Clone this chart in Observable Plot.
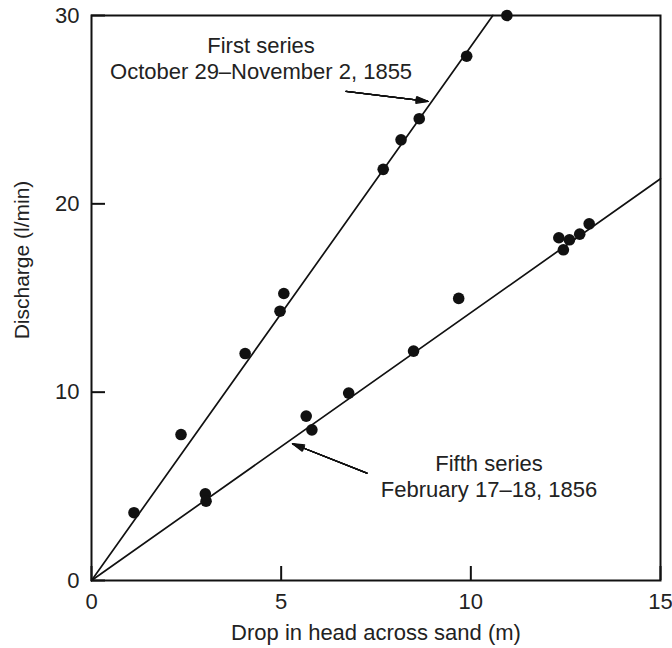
<!DOCTYPE html>
<html>
<head>
<meta charset="utf-8">
<script src="https://cdn.jsdelivr.net/npm/d3@7"></script>
<script src="https://cdn.jsdelivr.net/npm/@observablehq/plot@0.6"></script>
<style>
  html, body { margin: 0; padding: 0; background: #fff; }
  #chart svg { display: block; }
</style>
</head>
<body>
<div id="chart"></div>
<script>
// ---- data ----
const firstX = [1.12, 2.36, 4.05, 4.97, 5.07, 7.69, 8.16, 8.64, 9.89, 10.95];
const firstY = [3.6, 7.75, 12.05, 14.3, 15.24, 21.83, 23.4, 24.52, 27.84, 30.0];
const fifthX = [3.0, 3.02, 5.66, 5.81, 6.78, 8.49, 9.68, 12.32, 12.44, 12.6, 12.87, 13.12];
const fifthY = [4.6, 4.21, 8.73, 8.0, 9.95, 12.18, 14.98, 18.2, 17.56, 18.09, 18.39, 18.94];

const fitFirstX = [0, 10.58];
const fitFirstY = [0, 30];
const fitFifthX = [0, 15];
const fitFifthY = [0, 21.33];

const xTicks = [0, 5, 10, 15];
const yTicks = [0, 10, 20, 30];

const xLabel = "Drop in head across sand (m)";
const yLabel = "Discharge (l/min)";

const noteFirst = "First series\nOctober 29–November 2, 1855";
const noteFirstPos = [4.47, 27.75];
const arrowFirst = [6.71, 25.97, 8.87, 25.44];

const noteFifth = "Fifth series\nFebruary 17–18, 1856";
const noteFifthPos = [10.48, 5.55];
const arrowFifth = [7.26, 5.70, 5.30, 7.26];

// ---- build tables ----
const zip = (xs, ys) => xs.map((x, i) => ({x, y: ys[i]}));
const first = zip(firstX, firstY);
const fifth = zip(fifthX, fifthY);
const fitFirst = zip(fitFirstX, fitFirstY);
const fitFifth = zip(fitFifthX, fitFifthY);
const arrows = [arrowFirst, arrowFifth].map(([x1, y1, x2, y2]) => ({x1, y1, x2, y2}));
const notes = [
  {x: noteFirstPos[0], y: noteFirstPos[1], text: noteFirst},
  {x: noteFifthPos[0], y: noteFifthPos[1], text: noteFifth}
];

const FONT = "'Liberation Sans', Arial, Helvetica, sans-serif";
const INK = "#111";
const TEXT = "#222";
const FS = 22;

const headMarks = [32, 24, 16, 8, 2].map(a =>
  Plot.arrow(arrows, {x1: "x1", y1: "y1", x2: "x2", y2: "y2",
    stroke: INK, strokeWidth: 1.3, headLength: 14, headAngle: a})
);

const chart = Plot.plot({
  width: 672,
  height: 648,
  marginLeft: 91,
  marginRight: 12,
  marginTop: 15,
  marginBottom: 68,
  style: {fontFamily: FONT, background: "#fff", color: TEXT},
  x: {domain: [0, 15]},
  y: {domain: [0, 30]},
  marks: [
    // inward tick marks
    Plot.axisX(xTicks, {anchor: "bottom", tickSize: 14, dy: -14, text: null, strokeWidth: 2, stroke: INK}),
    Plot.axisY(yTicks, {anchor: "left", tickSize: 14, dx: 14, text: null, strokeWidth: 2, stroke: INK}),
    // tick labels
    Plot.axisX(xTicks, {anchor: "bottom", tickSize: 0, tickPadding: 13, label: null, fontSize: FS, fill: TEXT, fontFamily: FONT}),
    Plot.axisY(yTicks, {anchor: "left", tickSize: 0, tickPadding: 12, label: null, fontSize: FS, fill: TEXT, fontFamily: FONT}),
    // axis titles
    Plot.text([xLabel], {frameAnchor: "bottom", lineAnchor: "top", dy: 44, fontSize: FS, fill: TEXT, fontFamily: FONT}),
    Plot.text([yLabel], {frameAnchor: "left", textAnchor: "middle", lineAnchor: "middle", rotate: -90, dx: -69, dy: -38, fontSize: 21, fill: TEXT, fontFamily: FONT}),
    // fitted lines
    Plot.line(fitFirst, {x: "x", y: "y", stroke: INK, strokeWidth: 1.7}),
    Plot.line(fitFifth, {x: "x", y: "y", stroke: INK, strokeWidth: 1.7}),
    // observations
    Plot.dot(first, {x: "x", y: "y", r: 5.8, fill: INK, stroke: "none"}),
    Plot.dot(fifth, {x: "x", y: "y", r: 5.8, fill: INK, stroke: "none"}),
    // annotations
    ...headMarks,
    Plot.text(notes, {x: "x", y: "y", text: "text", lineHeight: 1.18, fontSize: FS, fill: TEXT, fontFamily: FONT}),
    Plot.frame({stroke: INK, strokeWidth: 2})
  ]
});
document.getElementById("chart").appendChild(chart);
</script>
</body>
</html>
